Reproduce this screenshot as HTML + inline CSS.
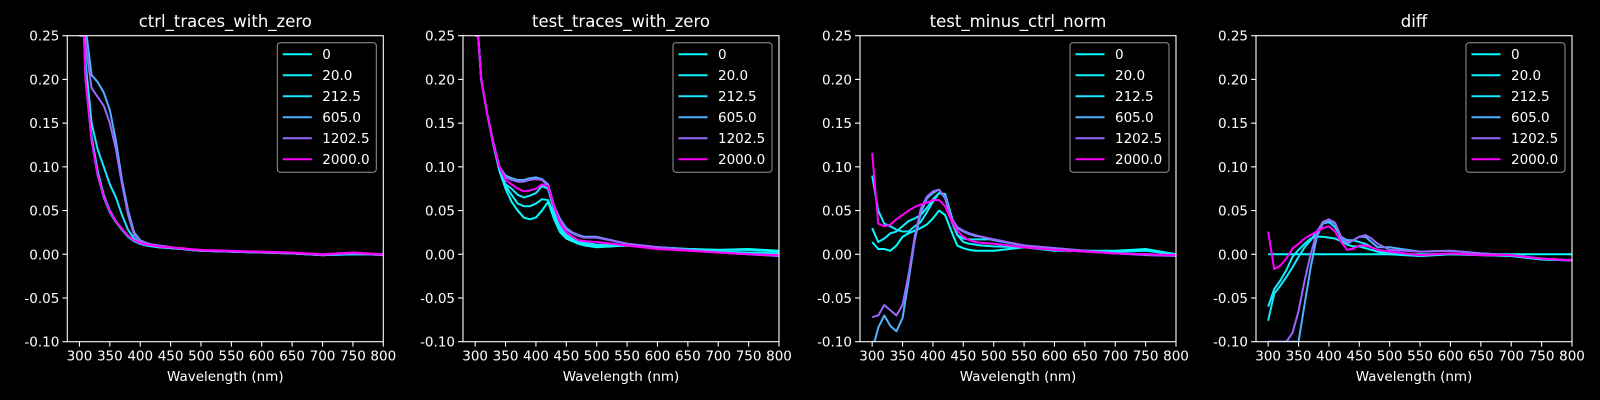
<!DOCTYPE html>
<html><head><meta charset="utf-8"><style>
html,body{margin:0;padding:0;background:#000;width:1600px;height:400px;overflow:hidden;}
svg{display:block;overflow:hidden;font-family:"DejaVu Sans","Liberation Sans",sans-serif;}
</style></head><body>
<svg id="fig" width="1600" height="400" viewBox="0 0 1600 400" xmlns="http://www.w3.org/2000/svg">
<rect width="1600" height="400" fill="#000"/>
</svg>
<script>
const wavelengths=[300,310,320,330,340,350,360,370,380,390,400,410,420,430,440,450,460,470,480,500,550,600,650,700,750,800];
const seriesLabels=["0","20.0","212.5","605.0","1202.5","2000.0"];
const seriesColors=["#00ffff","#0df2ff","#1be4ff","#4db2ff","#9966ff","#ff00ff"];
const panelTitles=["ctrl_traces_with_zero","test_traces_with_zero","test_minus_ctrl_norm","diff"];
const xTicks=[300,350,400,450,500,550,600,650,700,750,800];
const yTicks=[-0.10,-0.05,0.00,0.05,0.10,0.15,0.20,0.25];
const ctrl0=[0.4,0.2,0.13,0.09,0.065,0.048,0.037,0.028,0.02,0.015,0.012,0.01,0.009,0.008,0.0075,0.007,0.0065,0.006,0.005,0.004,0.003,0.002,0.001,-0.001,0.0,0.0];
const ctrl20=[0.4,0.205,0.135,0.095,0.068,0.05,0.038,0.029,0.021,0.016,0.012,0.01,0.009,0.008,0.0075,0.007,0.0065,0.006,0.005,0.004,0.003,0.002,0.001,-0.001,0.0,0.0];
const ctrl212=[0.4,0.22,0.15,0.12,0.1,0.08,0.065,0.045,0.028,0.018,0.013,0.011,0.01,0.009,0.008,0.007,0.0065,0.006,0.005,0.004,0.003,0.002,0.001,-0.001,0.0,0.0];
const ctrl605=[0.4,0.26,0.205,0.197,0.185,0.165,0.13,0.085,0.05,0.025,0.016,0.013,0.011,0.01,0.009,0.008,0.007,0.006,0.005,0.004,0.003,0.002,0.001,-0.001,0.001,-0.001];
const ctrl1202=[0.4,0.24,0.19,0.18,0.17,0.15,0.12,0.08,0.045,0.022,0.015,0.013,0.011,0.01,0.009,0.008,0.007,0.006,0.005,0.004,0.003,0.002,0.001,-0.001,0.001,-0.001];
const ctrl2000=[0.4,0.2,0.13,0.09,0.066,0.049,0.038,0.029,0.021,0.016,0.013,0.011,0.01,0.009,0.008,0.008,0.007,0.007,0.006,0.005,0.004,0.003,0.002,0.0,0.002,0.0];
const test0=[0.3,0.2,0.16,0.125,0.095,0.075,0.06,0.05,0.042,0.04,0.042,0.05,0.06,0.04,0.025,0.018,0.015,0.012,0.01,0.008,0.01,0.008,0.006,0.005,0.006,0.004];
const test20=[0.3,0.2,0.16,0.125,0.097,0.078,0.068,0.058,0.055,0.055,0.058,0.063,0.062,0.045,0.028,0.02,0.016,0.013,0.011,0.009,0.01,0.008,0.006,0.005,0.005,0.003];
const test212=[0.3,0.2,0.16,0.126,0.1,0.08,0.075,0.068,0.065,0.067,0.07,0.078,0.075,0.05,0.032,0.022,0.018,0.015,0.013,0.011,0.01,0.008,0.005,0.003,0.002,0.001];
const test605=[0.3,0.2,0.16,0.128,0.1,0.09,0.087,0.085,0.085,0.087,0.088,0.086,0.08,0.055,0.04,0.03,0.025,0.022,0.02,0.02,0.012,0.008,0.005,0.002,0.0,-0.002];
const test1202=[0.3,0.2,0.16,0.127,0.1,0.088,0.085,0.083,0.083,0.085,0.086,0.085,0.078,0.053,0.038,0.028,0.024,0.021,0.019,0.019,0.012,0.008,0.005,0.002,0.0,-0.002];
const test2000=[0.3,0.2,0.16,0.126,0.1,0.085,0.08,0.075,0.072,0.073,0.075,0.08,0.078,0.055,0.035,0.025,0.02,0.016,0.015,0.014,0.01,0.006,0.004,0.002,0.0,-0.001];
const norm0=[0.014,0.006,0.006,0.004,0.01,0.02,0.024,0.027,0.03,0.034,0.041,0.05,0.045,0.027,0.01,0.007,0.005,0.004,0.004,0.004,0.008,0.004,0.004,0.004,0.006,0.0];
const norm20=[0.03,0.014,0.018,0.024,0.026,0.032,0.038,0.041,0.045,0.053,0.063,0.07,0.069,0.045,0.022,0.014,0.012,0.011,0.01,0.009,0.008,0.005,0.004,0.003,0.004,0.0];
const norm212=[0.09,0.05,0.035,0.032,0.028,0.026,0.026,0.032,0.037,0.048,0.06,0.07,0.068,0.039,0.022,0.018,0.017,0.017,0.017,0.017,0.01,0.005,0.003,0.001,0.0,-0.001];
const norm605=[-0.11,-0.084,-0.07,-0.082,-0.088,-0.073,-0.03,0.016,0.047,0.064,0.07,0.074,0.064,0.041,0.03,0.026,0.023,0.021,0.02,0.016,0.01,0.007,0.004,0.001,0.0,-0.001];
const norm1202=[-0.072,-0.07,-0.058,-0.064,-0.07,-0.058,-0.023,0.02,0.052,0.066,0.072,0.074,0.065,0.042,0.031,0.027,0.024,0.022,0.02,0.017,0.01,0.007,0.004,0.001,-0.001,-0.002];
const norm2000=[0.116,0.035,0.032,0.034,0.04,0.045,0.05,0.054,0.057,0.059,0.062,0.062,0.055,0.039,0.027,0.02,0.016,0.014,0.013,0.012,0.008,0.005,0.003,0.001,0.0,-0.001];
const diff0=[0,0,0,0,0,0,0,0,0,0,0,0,0,0,0,0,0,0,0,0,0,0,0,0,0,0];
const diff20=[-0.06,-0.04,-0.03,-0.018,-0.003,0.005,0.012,0.018,0.02,0.02,0.019,0.018,0.015,0.011,0.009,0.009,0.007,0.005,0.003,0.0,-0.002,0.0,-0.001,-0.002,-0.006,-0.007];
const diff212=[-0.076,-0.045,-0.036,-0.026,-0.015,-0.003,0.008,0.016,0.026,0.035,0.037,0.031,0.02,0.016,0.016,0.014,0.012,0.008,0.005,0.002,-0.002,0.0,-0.001,-0.002,-0.006,-0.007];
const diff605=[-0.25,-0.2,-0.17,-0.15,-0.125,-0.1,-0.057,-0.015,0.02,0.035,0.039,0.035,0.018,0.012,0.016,0.02,0.02,0.014,0.008,0.008,0.003,0.004,0.001,-0.001,-0.005,-0.007];
const diff1202=[-0.2,-0.15,-0.105,-0.1,-0.09,-0.065,-0.03,0.0,0.025,0.037,0.04,0.036,0.02,0.014,0.016,0.02,0.022,0.018,0.012,0.005,0.003,0.004,0.001,-0.001,-0.005,-0.007];
const diff2000=[0.026,-0.017,-0.013,-0.005,0.0065,0.012,0.018,0.022,0.026,0.03,0.032,0.026,0.014,0.005,0.0065,0.01,0.01,0.008,0.005,0.003,-0.001,0.001,-0.001,-0.001,-0.005,-0.007];
const panelSeries=[[ctrl0,ctrl20,ctrl212,ctrl605,ctrl1202,ctrl2000],[test0,test20,test212,test605,test1202,test2000],[norm0,norm20,norm212,norm605,norm1202,norm2000],[diff0,diff20,diff212,diff605,diff1202,diff2000]];

const NS="http://www.w3.org/2000/svg";
const svg=document.getElementById('fig');
const axLefts=[67.3,463,860,1256], axW=316, axTop=35.7, axH=306;
const xMin=280,xMax=800,yMin=-0.10,yMax=0.25;
function mk(tag,attrs,parent){const e=document.createElementNS(NS,tag);for(const k in attrs)e.setAttribute(k,attrs[k]);(parent||svg).appendChild(e);return e;}

// insert boundary crossings, then clamp so geometry stays within the axes
function clipPts(pts,lo,hi){
  const out=[];
  for(let i=0;i<pts.length;i++){
    const p=pts[i];
    if(i>0){
      const q=pts[i-1];
      [lo,hi].forEach(b=>{
        if((q[1]-b)*(p[1]-b)<0){
          const t=(b-q[1])/(p[1]-q[1]);
          out.push([q[0]+t*(p[0]-q[0]),b]);
        }
      });
      // keep order for crossings when both crossed
      if(out.length>=2){
        const a=out[out.length-1],c=out[out.length-2];
        if(c[0]>a[0]&&c[0]<=p[0]&&a[0]>=q[0]){out[out.length-1]=c;out[out.length-2]=a;}
      }
    }
    out.push([p[0],Math.min(hi,Math.max(lo,p[1]))]);
  }
  return out;
}

panelTitles.forEach((title,p)=>{
  const L=axLefts[p];
  const xs=v=>L+(v-xMin)/(xMax-xMin)*axW;
  const ys=v=>axTop+(yMax-v)/(yMax-yMin)*axH;
  const g=mk('g',{});
  
  
  const defs=mk('defs',{},g);
  const cp=mk('clipPath',{id:'clip'+p},defs);
  mk('rect',{x:L,y:axTop,width:axW,height:axH},cp);
  const sg=mk('g',{'clip-path':'url(#clip'+p+')'},g);
  panelSeries[p].forEach((vals,si)=>{
    const raw=vals.map((v,i)=>[xs(wavelengths[i]),ys(v)]);
    const pts=clipPts(raw,axTop,axTop+axH).map(q=>q[0].toFixed(2)+','+q[1].toFixed(2)).join(' ');
    const pl=mk('polyline',{points:pts,fill:'none',stroke:seriesColors[si],'stroke-width':2,'stroke-linejoin':'round'},sg);
    
    
  });
  const fr=mk('rect',{x:L,y:axTop,width:axW,height:axH,fill:'none',stroke:'#fff','stroke-width':1.1},g);
  
  
  xTicks.forEach(t=>{
    const x=xs(t);
    mk('line',{x1:x,x2:x,y1:axTop+axH,y2:axTop+axH+4.9,stroke:'#fff','stroke-width':1.1},g);
    const tx=mk('text',{x:x,y:axTop+axH+19,fill:'#fff','font-size':13.5,'text-anchor':'middle'},g);
    tx.textContent=t;
    
    
  });
  yTicks.forEach(t=>{
    const y=ys(t);
    mk('line',{x1:L-4.9,x2:L,y1:y,y2:y,stroke:'#fff','stroke-width':1.1},g);
    const tx=mk('text',{x:L-8,y:y+5,fill:'#fff','font-size':13.5,'text-anchor':'end'},g);
    tx.textContent=t.toFixed(2);
    
    
  });
  const xl=mk('text',{x:L+axW/2,y:381,fill:'#fff','font-size':13.5,'text-anchor':'middle'},g);
  xl.textContent='Wavelength (nm)';
  
  
  const tt=mk('text',{x:L+axW/2,y:27,fill:'#fff','font-size':16.5,'text-anchor':'middle'},g);
  tt.textContent=title;
  
  
  const lg=mk('g',{},g);
  
  
  const lx=L+axW-106, ly=42.7;
  mk('rect',{x:lx,y:ly,width:99,height:129.5,rx:3,fill:'#000','fill-opacity':0.8,stroke:'#999','stroke-width':1},lg);
  seriesLabels.forEach((lab,si)=>{
    const y=ly+11.5+si*21;
    const ln=mk('line',{x1:lx+5.5,x2:lx+34.5,y1:y,y2:y,stroke:seriesColors[si],'stroke-width':2},lg);
    
    
    const t=mk('text',{x:lx+45,y:y+5,fill:'#fff','font-size':13.5},lg);
    t.textContent=lab;
    
    
  });
});
</script>
</body></html>
